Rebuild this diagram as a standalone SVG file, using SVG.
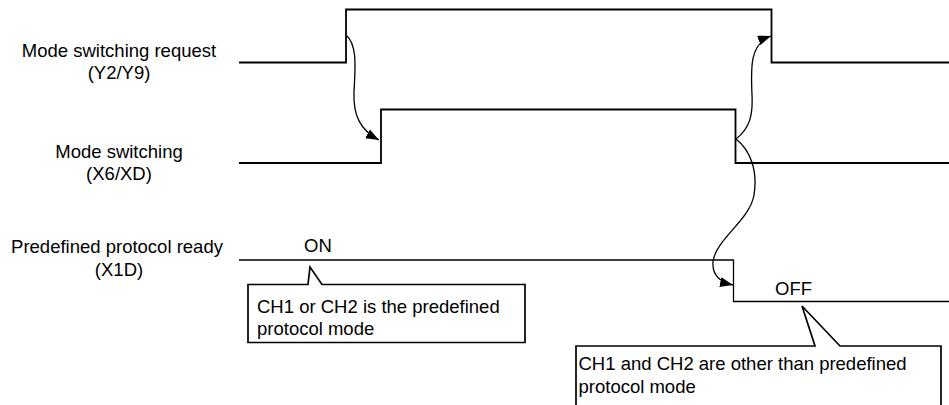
<svg xmlns="http://www.w3.org/2000/svg" width="949" height="405" viewBox="0 0 949 405">
<style>
  .t{font-family:"Liberation Sans",Arial,sans-serif;font-size:18.5px;fill:#000}
  .c{text-anchor:middle}
  .sig{fill:none;stroke:#000;stroke-width:1.8}
  .sig3{fill:none;stroke:#000;stroke-width:1.3}
  .call{fill:#fff;stroke:#000;stroke-width:1.7}
  .arr{fill:none;stroke:#000;stroke-width:1.3;marker-end:url(#ah)}
</style>
<defs>
  <marker id="ah" markerUnits="userSpaceOnUse" viewBox="0 0 13 10" refX="13" refY="5" markerWidth="13" markerHeight="10" orient="auto">
    <path d="M0,0 L13,5 L0,10 Z" fill="#000"/>
  </marker>
</defs>
<rect width="949" height="405" fill="#fff"/>

<g id="sig-request">
  <text class="t c" x="119" y="57">Mode switching request</text>
  <text class="t c" x="119" y="79">(Y2/Y9)</text>
  <path class="sig" d="M239,62.5 H346 V9.5 H771.5 V62.5 H949"/>
</g>

<g id="sig-switching">
  <text class="t c" x="119" y="158">Mode switching</text>
  <text class="t c" x="119" y="180">(X6/XD)</text>
  <path class="sig" d="M239,163 H381 V109.5 H735.5 V163 H949"/>
</g>

<g id="sig-ready">
  <text class="t c" x="117" y="252.5">Predefined protocol ready</text>
  <text class="t c" x="119" y="275.5">(X1D)</text>
  <path class="sig3" d="M239,260 H733.5 V301.5 H949"/>
  <text class="t" x="304" y="252">ON</text>
  <text class="t" x="775" y="295">OFF</text>
</g>

<g id="callout-on">
  <path class="call" d="M248,284.5 L308,284.5 L310,267 L322,284.5 L525,284.5 L525,342.5 L248,342.5 Z"/>
  <text class="t" x="257" y="313">CH1 or CH2 is the predefined</text>
  <text class="t" x="257" y="335">protocol mode</text>
</g>

<g id="callout-off">
  <path class="call" d="M576,410 L576,346 L815,346 L802,306 L840,346 L941,346 L941,410"/>
  <text class="t" x="578.5" y="370">CH1 and CH2 are other than predefined</text>
  <text class="t" x="578.5" y="392.5">protocol mode</text>
</g>

<g id="connectors">
  <path class="arr" d="M346,35 C358,45 355,70 354,92 C353,115 360,130 379,140"/>
  <path class="arr" d="M736,139 C750,128 753,115 752,95 C751,70 749,44 771,36"/>
  <path class="arr" d="M736,139 C750,150 758,170 754,195 C750,220 715,240 713,262 C712,275 720,282 733,285"/>
</g>
</svg>
